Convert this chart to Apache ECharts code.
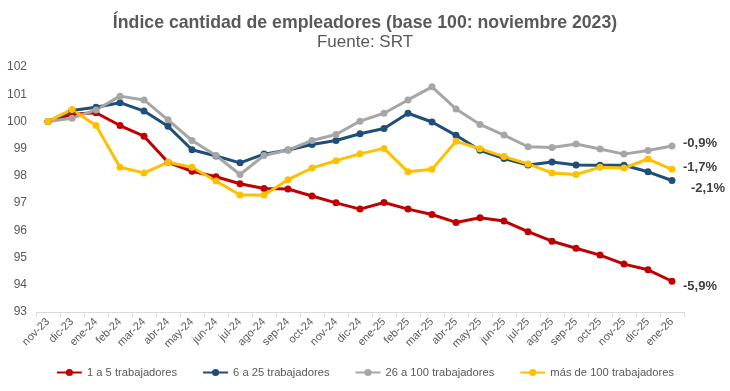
<!DOCTYPE html>
<html><head><meta charset="utf-8">
<script src="https://cdn.jsdelivr.net/npm/echarts@6/dist/echarts.min.js"></script>
<style>html,body{margin:0;padding:0;background:#fff}#c{width:730px;height:391px}</style>
</head><body><div id="c"></div>
<script>
const categories = ["nov-23","dic-23","ene-24","feb-24","mar-24","abr-24","may-24","jun-24","jul-24","ago-24","sep-24","oct-24","nov-24","dic-24","ene-25","feb-25","mar-25","abr-25","may-25","jun-25","jul-25","ago-25","sep-25","oct-25","nov-25","dic-25","ene-26"];
const seriesNames = ["1 a 5 trabajadores","6 a 25 trabajadores","26 a 100 trabajadores","más de 100 trabajadores"];
const s1a5 = [100,100.26,100.32,99.85,99.46,98.50,98.17,97.97,97.71,97.54,97.52,97.26,97.01,96.78,97.02,96.78,96.58,96.29,96.46,96.34,95.95,95.60,95.34,95.09,94.76,94.55,94.13];
const s6a25 = [100,100.40,100.52,100.69,100.38,99.82,98.96,98.73,98.48,98.80,98.95,99.15,99.30,99.55,99.74,100.30,99.98,99.49,98.94,98.64,98.40,98.51,98.40,98.39,98.39,98.15,97.83];
const s26a100 = [100,100.12,100.42,100.93,100.79,100.06,99.30,98.75,98.05,98.75,98.95,99.30,99.52,100.01,100.30,100.79,101.27,100.46,99.89,99.50,99.07,99.04,99.17,98.99,98.80,98.93,99.10];
const sMas100 = [100,100.44,99.85,98.32,98.11,98.50,98.32,97.81,97.30,97.30,97.86,98.29,98.56,98.81,99.01,98.15,98.24,99.27,99.00,98.71,98.44,98.11,98.05,98.32,98.29,98.62,98.24];
const endLabels = ["-5,9%","-2,1%","-0,9%","-1,7%"];
const yTicks = {min:93, max:102, interval:1};

const colors = ["#C00000","#1F4E79","#A6A6A6","#FFC000"];
const datas = [s1a5, s6a25, s26a100, sMas100];
const labelOffsets = [[3,5],[11,8],[3,-3],[3,-2]];
const font = "Liberation Sans, Arial, sans-serif";

const chart = echarts.init(document.getElementById('c'), null, {renderer:'canvas'});
chart.setOption({
  animation:false,
  title:{
    text:"Índice cantidad de empleadores (base 100: noviembre 2023)",
    subtext:"Fuente: SRT",
    left:'center', top:9, itemGap:2,
    textStyle:{fontFamily:font,fontSize:17.7,fontWeight:'bold',color:'#595959'},
    subtextStyle:{fontFamily:font,fontSize:17,color:'#595959'}
  },
  grid:{left:36,right:46,top:67,bottom:79,containLabel:false},
  legend:{
    bottom:8, left:'center', itemWidth:25, itemHeight:9, itemGap:25,
    textStyle:{fontFamily:font,fontSize:11.2,color:'#595959'},
    data:seriesNames
  },
  xAxis:{
    type:'category', data:categories, boundaryGap:true,
    axisLine:{lineStyle:{color:'#D9D9D9'}},
    axisTick:{show:true,lineStyle:{color:'#D9D9D9'}},
    axisLabel:{rotate:45,interval:0,color:'#595959',fontFamily:font,fontSize:11,margin:8}
  },
  yAxis:{
    type:'value', min:yTicks.min, max:yTicks.max, interval:yTicks.interval,
    splitLine:{show:false}, axisLine:{show:false}, axisTick:{show:false},
    axisLabel:{color:'#595959',fontFamily:font,fontSize:12,margin:9}
  },
  series: datas.map((d,i)=>({
    name:seriesNames[i], type:'line', data:d,
    symbol:'circle', symbolSize:7,
    lineStyle:{width:3,color:colors[i]},
    itemStyle:{color:colors[i]},
    endLabel:{show:true, formatter:endLabels[i], offset:labelOffsets[i],
      fontFamily:font, fontSize:13, fontWeight:'bold', color:'#404040'}
  }))
});
</script></body></html>
